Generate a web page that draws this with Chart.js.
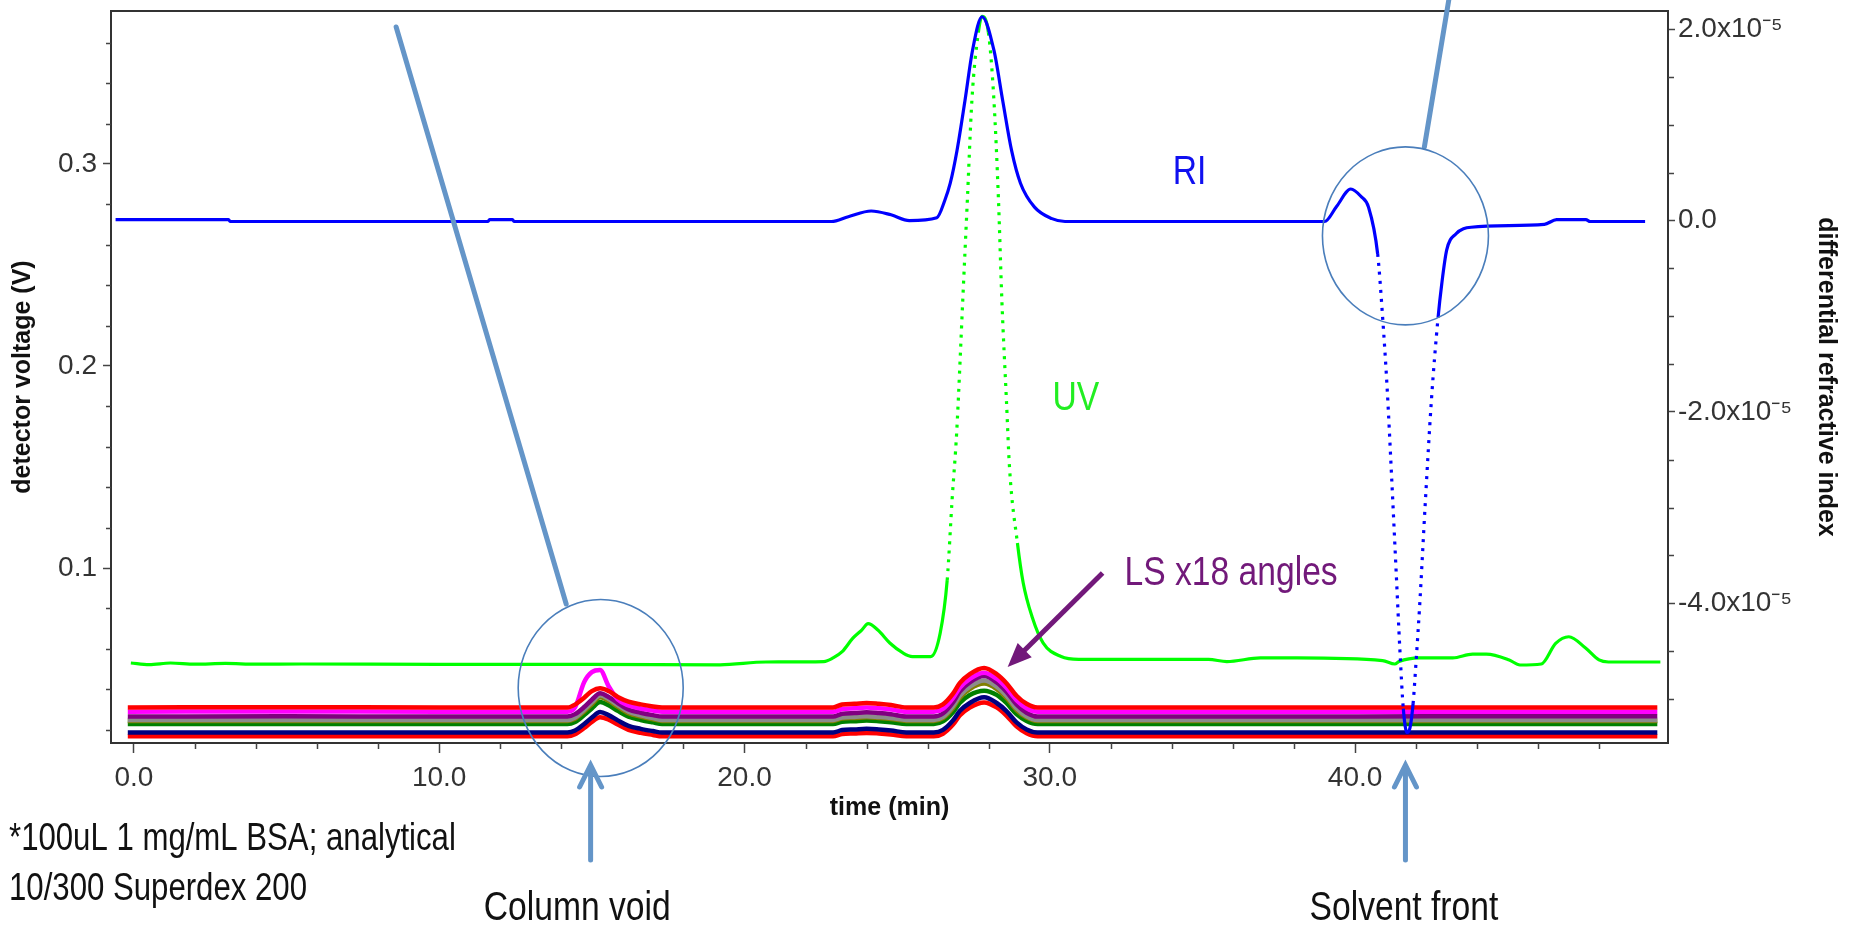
<!DOCTYPE html>
<html>
<head>
<meta charset="utf-8">
<title>SEC-MALS BSA chromatogram</title>
<script src="https://cdn.jsdelivr.net/npm/chart.js@4.4.1/dist/chart.umd.min.js"></script>
<style>
  html, body { margin: 0; padding: 0; background: #fff; }
  #wrap { width: 1853px; height: 925px; }
</style>
</head>
<body>
<div id="wrap"><canvas id="chromChart" width="1853" height="925"></canvas></div>
<script>
// Axis ranges
const X_MIN = -0.75, X_MAX = 50.25;
const V_MIN = 0.0134, V_MAX = 0.3757;
const RI_MIN = -5.46, RI_MAX = 2.19; // units of 1e-5

// Tick labels
const xTickValues = [0, 10, 20, 30, 40];
const vTickValues = [0.1, 0.2, 0.3];
const riTickValues = [-4, -2, 0, 2];

// RI trace (differential refractive index, x1e-5), right axis
const riTime = [-0.6, 3.1, 3.15, 11.6, 11.65, 12.4, 12.45, 22.85, 23.4, 24.15, 24.8, 25.4, 26.3,
  26.56, 26.74, 26.96, 27.22, 27.47, 27.78, 28.17, 28.46, 28.75, 29.04, 29.5, 30.07, 30.5,
  39.0, 39.4, 39.86, 40.2, 40.44, 40.74, 40.9, 41.05, 41.2, 41.35, 41.47, 41.58, 41.7, 41.8,
  41.9, 42.0, 42.12, 42.3, 42.5, 42.72, 42.84, 43.0, 43.3, 43.8, 46.2, 46.6, 47.56, 47.7, 49.5];
const riValue = [0.01, 0.01, -0.01, -0.01, 0.01, 0.01, -0.01, -0.01, 0.04, 0.10, 0.06, 0.0, 0.03,
  0.21, 0.39, 0.73, 1.25, 1.78, 2.13, 1.78, 1.25, 0.73, 0.39, 0.14, 0.02, -0.01,
  -0.01, 0.15, 0.33, 0.25, 0.14, -0.35, -1.0, -1.75, -2.7, -3.7, -4.5, -5.1, -5.35, -5.3,
  -5.05, -4.6, -4.0, -2.95, -1.88, -1.01, -0.66, -0.31, -0.14, -0.07, -0.04, 0.01, 0.01, -0.01, -0.01];

// UV trace (detector voltage), left axis
const uvTime = [-0.1, 0.5, 1.2, 2.0, 3.0, 4.0, 5.5, 10.0, 15.0, 19.2, 20.7, 22.6, 22.9, 23.2, 23.55,
  23.84, 24.05, 24.37, 24.76, 25.19, 25.5, 26.1, 26.41, 26.64, 26.8, 26.95, 27.15, 27.3, 27.45,
  27.66, 27.78, 27.99, 28.17, 28.32, 28.43, 28.58, 28.68, 28.94, 29.13, 29.42, 29.78, 30.37,
  30.95, 35.2, 35.8, 36.9, 38.1, 40.9, 41.3, 41.44, 42.1, 43.2, 43.85, 44.3, 45.05, 45.4, 46.1,
  46.57, 47.0, 47.55, 47.99, 48.3, 50.0];
const uvValue = [0.0530, 0.0522, 0.0530, 0.0524, 0.0528, 0.0524, 0.0525, 0.0523, 0.0523, 0.0521,
  0.0535, 0.0537, 0.0555, 0.0586, 0.0653, 0.0693, 0.0725, 0.0693, 0.0629, 0.0580, 0.0562, 0.0562,
  0.0678, 0.0940, 0.1337, 0.1670, 0.2327, 0.2820, 0.3317, 0.3650, 0.3730, 0.3650, 0.3317, 0.2820,
  0.2327, 0.1830, 0.1500, 0.1124, 0.0926, 0.0759, 0.0630, 0.0562, 0.0548, 0.0548, 0.0537, 0.0555,
  0.0555, 0.0542, 0.0525, 0.0537, 0.0555, 0.0555, 0.0574, 0.0574, 0.0545, 0.0520, 0.0525, 0.0627,
  0.0660, 0.0604, 0.0545, 0.0535, 0.0535];

// Light scattering detectors (shared time base), left axis
const lsTime = [-0.2, 5.0, 10.0, 14.2, 14.45, 14.75, 15.0, 15.27, 15.55, 15.85, 16.2, 16.6, 17.0, 17.3,
  22.9, 23.2, 23.6, 24.0, 24.4, 24.8, 25.3, 26.2, 26.5, 26.83, 27.05, 27.38, 27.85, 28.26, 28.58,
  28.91, 29.24, 29.6, 35.0, 40.0, 45.0, 49.9];
const lsRedTop = [0.0310, 0.0311, 0.0310,
  0.0310, 0.0324, 0.0358, 0.0391, 0.0405, 0.0391, 0.0362, 0.0339, 0.0325, 0.0315, 0.0310,
  0.0310, 0.0325, 0.0328, 0.0332, 0.0328, 0.0322, 0.0310,
  0.0310, 0.0325, 0.0378, 0.0430, 0.0475, 0.0505, 0.0475, 0.0430, 0.0368, 0.0328, 0.0310,
  0.0310, 0.0310, 0.0310, 0.0310];
const lsMagenta = [0.0289, 0.0290, 0.0289,
  0.0289, 0.0310, 0.0436, 0.0485, 0.0495, 0.0415, 0.0350, 0.0320, 0.0305, 0.0295, 0.0289,
  0.0289, 0.0302, 0.0306, 0.0310, 0.0306, 0.0300, 0.0289,
  0.0289, 0.0303, 0.0356, 0.0407, 0.0452, 0.0482, 0.0452, 0.0407, 0.0346, 0.0306, 0.0289,
  0.0289, 0.0289, 0.0289, 0.0289];
const lsPurple = [0.0265, 0.0266, 0.0265,
  0.0265, 0.0277, 0.0312, 0.0348, 0.0380, 0.0362, 0.0332, 0.0300, 0.0284, 0.0272, 0.0265,
  0.0265, 0.0279, 0.0282, 0.0286, 0.0282, 0.0276, 0.0265,
  0.0265, 0.0280, 0.0335, 0.0388, 0.0434, 0.0465, 0.0434, 0.0388, 0.0325, 0.0284, 0.0265,
  0.0265, 0.0265, 0.0267, 0.0266];
const lsGray = [0.0248, 0.0248, 0.0248,
  0.0248, 0.0260, 0.0298, 0.0335, 0.0370, 0.0352, 0.0321, 0.0289, 0.0271, 0.0257, 0.0248,
  0.0248, 0.0260, 0.0263, 0.0267, 0.0263, 0.0258, 0.0248,
  0.0248, 0.0263, 0.0316, 0.0368, 0.0413, 0.0443, 0.0413, 0.0368, 0.0306, 0.0266, 0.0248,
  0.0248, 0.0248, 0.0248, 0.0248];
const lsOlive = [0.0243, 0.0243, 0.0243,
  0.0243, 0.0254, 0.0290, 0.0326, 0.0360, 0.0343, 0.0313, 0.0282, 0.0265, 0.0251, 0.0243,
  0.0243, 0.0255, 0.0258, 0.0261, 0.0258, 0.0253, 0.0243,
  0.0243, 0.0257, 0.0307, 0.0357, 0.0401, 0.0428, 0.0401, 0.0357, 0.0297, 0.0260, 0.0243,
  0.0243, 0.0243, 0.0243, 0.0243];
const lsGreen = [0.0228, 0.0228, 0.0228,
  0.0228, 0.0238, 0.0272, 0.0305, 0.0337, 0.0321, 0.0293, 0.0264, 0.0248, 0.0236, 0.0228,
  0.0228, 0.0239, 0.0242, 0.0245, 0.0242, 0.0237, 0.0228,
  0.0228, 0.0241, 0.0286, 0.0332, 0.0372, 0.0393, 0.0372, 0.0332, 0.0277, 0.0243, 0.0228,
  0.0228, 0.0228, 0.0228, 0.0228];
const lsNavy = [0.0186, 0.0186, 0.0186,
  0.0186, 0.0196, 0.0228, 0.0260, 0.0287, 0.0272, 0.0246, 0.0219, 0.0204, 0.0193, 0.0186,
  0.0186, 0.0198, 0.0201, 0.0204, 0.0201, 0.0196, 0.0186,
  0.0186, 0.0199, 0.0246, 0.0292, 0.0332, 0.0360, 0.0332, 0.0292, 0.0236, 0.0201, 0.0186,
  0.0186, 0.0186, 0.0186, 0.0186];
const lsRedBottom = [0.0167, 0.0167, 0.0167,
  0.0167, 0.0177, 0.0208, 0.0239, 0.0262, 0.0250, 0.0225, 0.0199, 0.0184, 0.0174, 0.0167,
  0.0167, 0.0178, 0.0181, 0.0184, 0.0181, 0.0176, 0.0167,
  0.0167, 0.0180, 0.0225, 0.0270, 0.0310, 0.0335, 0.0310, 0.0270, 0.0216, 0.0182, 0.0167,
  0.0167, 0.0167, 0.0167, 0.0167];

const toPoints = (xs, ys) => xs.map((x, i) => ({ x: x, y: ys[i] }));

// steep stretches come out dotted in the original software
const steepDash = (c) => {
  const dx = Math.abs(c.p1.x - c.p0.x);
  const dy = Math.abs(c.p1.y - c.p0.y);
  return dy > 9.5 * dx ? [3, 6] : undefined;
};

const lsLine = (label, values, color) => ({
  label: label,
  data: toPoints(lsTime, values),
  yAxisID: 'y',
  borderColor: color,
  borderWidth: 4.5,
  pointRadius: 0
});

const TICK_FONT = { family: '"Liberation Sans", Arial, sans-serif', size: 28 };
const TITLE_FONT = { family: '"Liberation Sans", Arial, sans-serif', size: 25, weight: 'bold' };
const NOTE_FAMILY = '"Liberation Sans", Arial, sans-serif';

// handwriting-like notes are narrow: squeeze the text horizontally
function drawNote(c, text, x, y, align, size, color) {
  c.save();
  c.translate(x, y);
  c.scale(0.82, 1);
  c.font = size + 'px ' + NOTE_FAMILY;
  c.textAlign = align;
  c.textBaseline = 'alphabetic';
  c.fillStyle = color;
  c.fillText(text, 0, 0);
  c.restore();
}

// minor ticks, frame and the hand-drawn notes on top of the plot
const overlayPlugin = {
  id: 'overlay',
  beforeDraw(chart) {
    const c = chart.ctx;
    c.save();
    c.fillStyle = '#ffffff';
    c.fillRect(0, 0, chart.width, chart.height);
    c.restore();
  },
  afterDraw(chart) {
    const c = chart.ctx;
    const area = chart.chartArea;
    const sx = chart.scales.x, sv = chart.scales.y, sr = chart.scales.yRI;
    const px = (t) => sx.getPixelForValue(t);
    const pv = (v) => sv.getPixelForValue(v);

    c.save();
    // top edge of the frame
    c.strokeStyle = '#333';
    c.lineWidth = 2;
    c.beginPath();
    c.moveTo(area.left - 1, area.top);
    c.lineTo(area.right + 1, area.top);
    c.stroke();

    // minor ticks
    c.lineWidth = 1.5;
    c.strokeStyle = '#444';
    c.beginPath();
    for (let t = 2; t <= 48; t += 2) {
      if (t % 10 === 0) continue;
      const x = Math.round(px(t)) + 0.5;
      c.moveTo(x, area.bottom); c.lineTo(x, area.bottom + 6);
    }
    for (let k = 1; k <= 18; k++) {
      if (k % 5 === 0) continue;
      const y = Math.round(pv(k * 0.02)) + 0.5;
      c.moveTo(area.left - 5, y); c.lineTo(area.left, y);
    }
    for (let k = -10; k <= 4; k++) {
      if (k % 4 === 0) continue;
      const y = Math.round(sr.getPixelForValue(k * 0.5)) + 0.5;
      c.moveTo(area.right, y); c.lineTo(area.right + 6, y);
    }
    c.stroke();

    // steel-blue callout lines
    c.lineCap = 'round';
    c.strokeStyle = '#6495C8';
    c.lineWidth = 5;
    c.beginPath();
    c.moveTo(px(8.59), pv(0.3678));
    c.lineTo(px(14.16), pv(0.0822));
    c.stroke();
    const l2a = { x: px(42.27), y: pv(0.3084) };
    const l2b = { x: px(43.07), y: pv(0.3812) };
    const k2 = (l2b.x - l2a.x) / (l2b.y - l2a.y);
    c.beginPath();
    c.moveTo(l2a.x, l2a.y);
    c.lineTo(l2a.x + k2 * (-5 - l2a.y), -5);
    c.stroke();

    // circles
    c.strokeStyle = '#4A7EBB';
    c.lineWidth = 1.6;
    c.beginPath();
    c.ellipse(px(15.29), pv(0.0406), 82.5, 88.5, 0, 0, Math.PI * 2);
    c.stroke();
    c.beginPath();
    c.ellipse(px(41.65), pv(0.2644), 83, 89, 0, 0, Math.PI * 2);
    c.stroke();

    // up arrows under the x axis
    c.strokeStyle = '#6495C8';
    c.lineWidth = 5;
    [14.96, 41.65].forEach((t) => {
      const x = px(t);
      const tip = area.bottom + 22, tail = area.bottom + 117;
      c.beginPath();
      c.moveTo(x, tail); c.lineTo(x, tip + 2);
      c.stroke();
      c.beginPath();
      c.moveTo(x - 11, tip + 22); c.lineTo(x, tip); c.lineTo(x + 11, tip + 22);
      c.stroke();
    });

    // purple arrow to the LS peaks
    const a0 = { x: px(31.73), y: pv(0.0975) };
    const a1 = { x: px(28.62), y: pv(0.051) };
    const len = Math.hypot(a1.x - a0.x, a1.y - a0.y);
    const ux = (a1.x - a0.x) / len, uy = (a1.y - a0.y) / len;
    c.strokeStyle = '#72197A';
    c.fillStyle = '#72197A';
    c.lineWidth = 5;
    c.lineCap = 'butt';
    c.beginPath();
    c.moveTo(a0.x, a0.y);
    c.lineTo(a1.x - ux * 16, a1.y - uy * 16);
    c.stroke();
    c.beginPath();
    c.moveTo(a1.x, a1.y);
    c.lineTo(a1.x - ux * 24 - uy * 10, a1.y - uy * 24 + ux * 10);
    c.lineTo(a1.x - ux * 24 + uy * 10, a1.y - uy * 24 - ux * 10);
    c.closePath();
    c.fill();
    c.restore();

    // text notes
    drawNote(c, 'RI', px(34.58), pv(0.2975) + 15, 'center', 41, '#1010F0');
    drawNote(c, 'UV', px(30.85), pv(0.1856) + 15, 'center', 41, '#22EE22');
    drawNote(c, 'LS x18 angles', px(32.45), pv(0.0916), 'left', 41, '#72197A');
    drawNote(c, 'Column void', px(14.52), area.bottom + 177, 'center', 41, '#111');
    drawNote(c, 'Solvent front', px(41.6), area.bottom + 177, 'center', 41, '#111');
    drawNote(c, '*100uL 1 mg/mL BSA; analytical', 9, 850, 'left', 38, '#111');
    drawNote(c, '10/300 Superdex 200', 9, 900, 'left', 38, '#111');
  }
};

const ctx = document.getElementById('chromChart').getContext('2d');
new Chart(ctx, {
  type: 'line',
  data: {
    datasets: [
      { label: 'RI', data: toPoints(riTime, riValue), yAxisID: 'yRI', borderColor: '#0000FF',
        borderWidth: 3.2, pointRadius: 0, segment: { borderDash: steepDash } },
      { label: 'UV', data: toPoints(uvTime, uvValue), yAxisID: 'y', borderColor: '#00FF00',
        borderWidth: 3.2, pointRadius: 0, segment: { borderDash: steepDash } },
      lsLine('LS 1', lsRedTop, '#FF0000'),
      lsLine('LS 2', lsMagenta, '#FF00FF'),
      lsLine('LS 3', lsPurple, '#800080'),
      lsLine('LS 4', lsGray, '#8C8C8C'),
      lsLine('LS 5', lsOlive, '#808000'),
      lsLine('LS 6', lsGreen, '#008000'),
      lsLine('LS 7', lsNavy, '#000080'),
      lsLine('LS 8', lsRedBottom, '#FF0000')
    ]
  },
  options: {
    responsive: false,
    animation: false,
    devicePixelRatio: 1,
    layout: { padding: { top: 11, left: 0, right: 0, bottom: 0 } },
    plugins: {
      legend: { display: false },
      tooltip: { enabled: false }
    },
    elements: { line: { cubicInterpolationMode: 'monotone', borderCapStyle: 'butt' } },
    scales: {
      x: {
        type: 'linear',
        min: X_MIN,
        max: X_MAX,
        afterBuildTicks: (s) => { s.ticks = xTickValues.map((v) => ({ value: v })); },
        afterFit: (s) => { s.height = 182; s.paddingLeft = 0; s.paddingRight = 0; },
        ticks: { callback: (v) => Number(v).toFixed(1), font: TICK_FONT, color: '#333',
          padding: 8, maxRotation: 0, autoSkip: false },
        grid: { drawOnChartArea: false, tickLength: 10, tickColor: '#444', tickWidth: 1.5 },
        border: { display: true, color: '#333', width: 2 },
        title: { display: true, text: 'time (min)', font: TITLE_FONT, color: '#111',
          padding: { top: 0, bottom: 102 } }
      },
      y: {
        type: 'linear',
        position: 'left',
        min: V_MIN,
        max: V_MAX,
        afterBuildTicks: (s) => { s.ticks = vTickValues.map((v) => ({ value: v })); },
        afterFit: (s) => { s.width = 111; s.paddingTop = 0; s.paddingBottom = 0; },
        ticks: { callback: (v) => Number(v).toFixed(1), font: TICK_FONT, color: '#333',
          padding: 6, autoSkip: false },
        grid: { drawOnChartArea: false, tickLength: 8, tickColor: '#444', tickWidth: 1.5 },
        border: { display: true, color: '#333', width: 2 },
        title: { display: true, text: 'detector voltage (V)', font: TITLE_FONT, color: '#111',
          padding: { top: 8, bottom: 0 } }
      },
      yRI: {
        type: 'linear',
        position: 'right',
        min: RI_MIN,
        max: RI_MAX,
        afterBuildTicks: (s) => { s.ticks = riTickValues.map((v) => ({ value: v })); },
        afterFit: (s) => { s.width = 185; s.paddingTop = 0; s.paddingBottom = 0; },
        ticks: { callback: (v) => (v === 0 ? '0.0' : Number(v).toFixed(1) + 'x10\u207B\u2075'),
          font: TICK_FONT, color: '#333', padding: 3, autoSkip: false },
        grid: { drawOnChartArea: false, tickLength: 7, tickColor: '#444', tickWidth: 1.5 },
        border: { display: true, color: '#333', width: 2 },
        title: { display: true, text: 'differential refractive index', font: TITLE_FONT,
          color: '#111', padding: { top: 12, bottom: 0 } }
      }
    }
  },
  plugins: [overlayPlugin]
});
</script>
</body>
</html>
